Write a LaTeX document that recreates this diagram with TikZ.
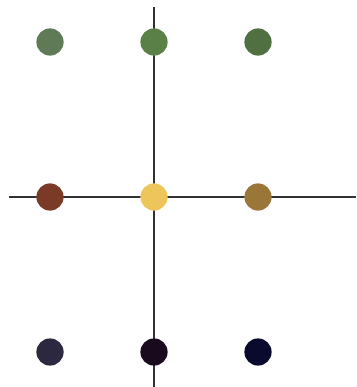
\documentclass[tikz,border=0pt]{standalone}
\usetikzlibrary{positioning}
\definecolor{SageGreen}{RGB}{95, 122, 87}
\definecolor{LeafGreen}{RGB}{90, 128, 72}
\definecolor{MossGreen}{RGB}{80, 112, 65}
\definecolor{RustBrown}{RGB}{122, 58, 37}
\definecolor{Mustard}{RGB}{238, 197, 90}
\definecolor{Ochre}{RGB}{154, 118, 56}
\definecolor{DuskGray}{RGB}{44, 40, 64}
\definecolor{PlumBlack}{RGB}{26, 10, 30}
\definecolor{InkNavy}{RGB}{10, 10, 46}
\definecolor{AxisGray}{RGB}{50, 50, 50}

\begin{document}
\begin{tikzpicture}[x=0.025cm, y=-0.025cm, dot/.style={circle, inner sep=0pt, minimum size=0.68cm}]
        \useasboundingbox (0,0) rectangle (356,387);
        \coordinate (top) at (154,7);
        \coordinate (bottom) at (154,387);
        \coordinate (left) at (9,197);
        \coordinate (right) at (356,197);
        \draw[line width=1.4pt, AxisGray] (top) -- (bottom);
        \draw[line width=1.4pt, AxisGray] (left) -- (right);
        \node[dot, fill=SageGreen] (tl) at (50,42) {};
        \node[dot, fill=LeafGreen] (tc) at (154,42) {};
        \node[dot, fill=MossGreen] (tr) at (258,42) {};
        \node[dot, fill=RustBrown] (ml) at (50,197) {};
        \node[dot, fill=Mustard] (mc) at (154,197) {};
        \node[dot, fill=Ochre] (mr) at (258,197) {};
        \node[dot, fill=DuskGray] (bl) at (50,352) {};
        \node[dot, fill=PlumBlack] (bc) at (154,352) {};
        \node[dot, fill=InkNavy] (br) at (258,352) {};
    \end{tikzpicture}
\end{document}
